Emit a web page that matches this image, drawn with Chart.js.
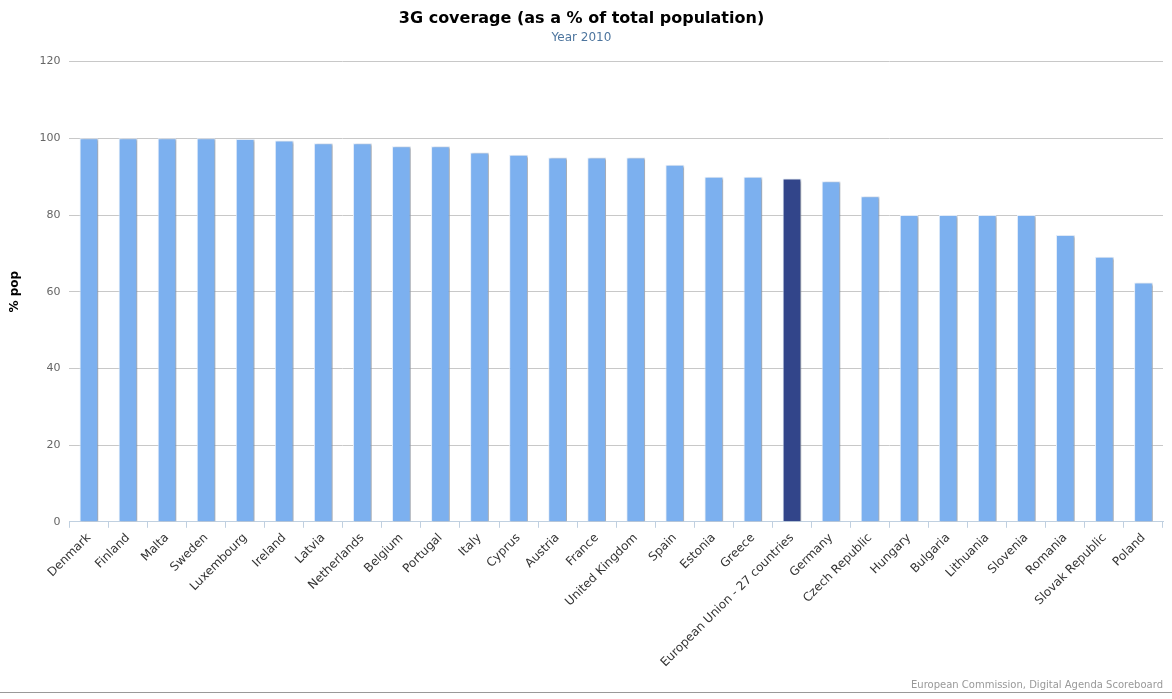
<!DOCTYPE html>
<html>
<head>
<meta charset="utf-8">
<script src="https://cdn.jsdelivr.net/npm/chart.js@4.4.1/dist/chart.umd.min.js"></script>
<style>
    html, body { margin: 0; padding: 0; background: #fff; }
    #wrap { position: relative; width: 1172px; height: 699px; }
    #wrap::after { content: ''; position: absolute; left: 0; right: 0; top: 692px; border-top: 1px solid #999; }
</style>
</head>
<body>
<div id="wrap"><canvas id="coverage" width="1172" height="692"></canvas></div>
<script>
// 3G coverage by country, 2010
const countries = ['Denmark', 'Finland', 'Malta', 'Sweden', 'Luxembourg', 'Ireland', 'Latvia', 'Netherlands',
    'Belgium', 'Portugal', 'Italy', 'Cyprus', 'Austria', 'France', 'United Kingdom', 'Spain', 'Estonia',
    'Greece', 'European Union - 27 countries', 'Germany', 'Czech Republic', 'Hungary', 'Bulgaria',
    'Lithuania', 'Slovenia', 'Romania', 'Slovak Republic', 'Poland'];
const coverage = [100, 100, 100, 100, 99.8, 99.4, 98.7, 98.7, 97.9, 97.9, 96.3, 95.7, 95, 95, 95, 93.1, 90,
    90, 89.5, 88.8, 84.9, 80, 80, 80, 80, 74.8, 69.1, 62.4];
const yTicks = [0, 20, 40, 60, 80, 100, 120];

const barColors = countries.map(c => c.startsWith('European Union') ? '#32458a' : '#7cb0ef');

// soft drop shadow behind the bars
const barShadow = {
    id: 'barShadow',
    beforeDatasetsDraw(chart) {
        const ctx = chart.ctx;
        ctx.save();
        ctx.shadowColor = 'rgba(0, 0, 0, 0.3)';
        ctx.shadowOffsetX = 2;
        ctx.shadowOffsetY = 1;
        ctx.shadowBlur = 2;
    },
    afterDatasetsDraw(chart) {
        chart.ctx.restore();
    }
};

const credits = {
    id: 'credits',
    afterDraw(chart) {
        const ctx = chart.ctx;
        ctx.save();
        ctx.font = '10px "DejaVu Sans", sans-serif';
        ctx.fillStyle = '#999';
        ctx.textAlign = 'right';
        ctx.textBaseline = 'bottom';
        ctx.fillText('European Commission, Digital Agenda Scoreboard', 1163, 690);
        ctx.restore();
    }
};

const ctx = document.getElementById('coverage').getContext('2d');
new Chart(ctx, {
    type: 'bar',
    data: {
        labels: countries,
        datasets: [{
            label: '% pop',
            data: coverage,
            backgroundColor: barColors,
            borderColor: '#e4eefb',
            borderWidth: 1,
            categoryPercentage: 1,
            barPercentage: 0.48
        }]
    },
    plugins: [barShadow, credits],
    options: {
        responsive: false,
        animation: false,
        layout: {
            padding: { left: 0, right: 9, top: 4, bottom: 19 }
        },
        plugins: {
            legend: { display: false },
            tooltip: { enabled: false },
            title: {
                display: true,
                text: '3G coverage (as a % of total population)',
                color: '#000',
                font: { family: '"DejaVu Sans", sans-serif', size: 16, weight: 'bold' },
                padding: { top: 5, bottom: 2 }
            },
            subtitle: {
                display: true,
                text: 'Year 2010',
                color: '#4d759e',
                font: { family: '"DejaVu Sans", sans-serif', size: 12 },
                padding: { bottom: 17 }
            }
        },
        scales: {
            x: {
                grid: {
                    drawOnChartArea: false,
                    drawTicks: true,
                    tickLength: 6,
                    color: '#c0d0e0',
                    offset: true
                },
                border: { color: '#c0d0e0' },
                ticks: {
                    autoSkip: false,
                    minRotation: 45,
                    maxRotation: 45,
                    color: '#333',
                    font: { family: '"DejaVu Sans", sans-serif', size: 12 }
                }
            },
            y: {
                min: 0,
                max: 120,
                afterBuildTicks(axis) {
                    axis.ticks = yTicks.map(v => ({ value: v }));
                },
                grid: { color: '#c8c8c8', drawTicks: false },
                border: { display: false },
                ticks: {
                    padding: 9,
                    color: '#666',
                    font: { family: '"DejaVu Sans", sans-serif', size: 11 }
                },
                title: {
                    display: true,
                    text: '% pop',
                    color: '#000',
                    font: { family: '"DejaVu Sans", sans-serif', size: 12, weight: 'bold' },
                    padding: { top: 8, bottom: 8 }
                }
            }
        }
    }
});
</script>
</body>
</html>
